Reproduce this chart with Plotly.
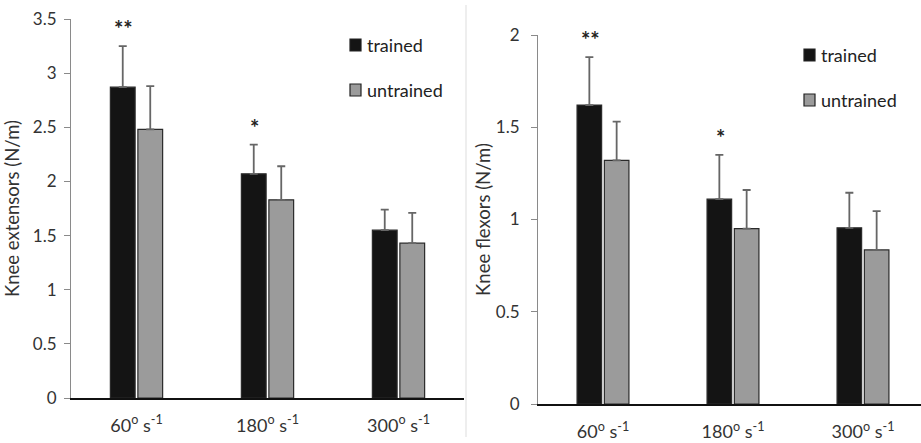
import plotly.graph_objects as go

categories = ["60<sup>o</sup> s<sup>-1</sup>", "180<sup>o</sup> s<sup>-1</sup>", "300<sup>o</sup> s<sup>-1</sup>"]

ext_trained = [2.87, 2.07, 1.55]
ext_trained_sd = [0.38, 0.27, 0.19]
ext_untrained = [2.48, 1.83, 1.43]
ext_untrained_sd = [0.40, 0.31, 0.28]
ext_sig = ["**", "*", ""]

flex_trained = [1.62, 1.11, 0.955]
flex_trained_sd = [0.26, 0.24, 0.19]
flex_untrained = [1.32, 0.95, 0.835]
flex_untrained_sd = [0.21, 0.21, 0.21]
flex_sig = ["**", "*", ""]

series_names = ["trained", "untrained"]
FONT = "Lato"
W, H = 921, 443

DARK = "#141414"
GREY = "#9b9b9b"
EDGE = "#2a2a2a"
ERR = "#666666"
COLORS = [DARK, GREY]

fig = go.Figure()


def add_bars(vals, sds, name, color, xa, ya):
    fig.add_trace(go.Bar(
        x=categories, y=vals, name=name, xaxis=xa, yaxis=ya, showlegend=False,
        marker=dict(color=color, line=dict(color=EDGE, width=1.2)),
        error_y=dict(type="data", symmetric=False, array=sds, arrayminus=[0] * len(sds),
                     color=ERR, thickness=1.8, width=4),
    ))


add_bars(ext_trained, ext_trained_sd, series_names[0], DARK, "x", "y")
add_bars(ext_untrained, ext_untrained_sd, series_names[1], GREY, "x", "y")
add_bars(flex_trained, flex_trained_sd, series_names[0], DARK, "x2", "y2")
add_bars(flex_untrained, flex_untrained_sd, series_names[1], GREY, "x2", "y2")

annotations = []
for xr, yr, means, sds, sig in [("x", "y", ext_trained, ext_trained_sd, ext_sig),
                                ("x2", "y2", flex_trained, flex_trained_sd, flex_sig)]:
    for cat, m, s, t in zip(categories, means, sds, sig):
        if t:
            annotations.append(dict(x=cat, y=m + s, xref=xr, yref=yr, text="<b>" + t + "</b>",
                                    showarrow=False, yanchor="bottom", yshift=2, xshift=-13,
                                    font=dict(family=FONT, size=22, color="#222")))

# legends (drawn as decoration: square swatch + label)
shapes = []
legend_spots = [(350, [45, 90]), (804, [55, 100])]
for lx, ys in legend_spots:
    for name, col, yc in zip(series_names, COLORS, ys):
        shapes.append(dict(type="rect", xref="paper", yref="paper",
                           x0=lx / W, x1=(lx + 11) / W, y0=1 - (yc - 6) / H, y1=1 - (yc + 6) / H,
                           fillcolor=col, line=dict(color="#222", width=1.2)))
        annotations.append(dict(x=(lx + 15) / W, y=1 - yc / H, xref="paper", yref="paper",
                                text=name, showarrow=False, xanchor="left", yanchor="middle",
                                font=dict(family=FONT, size=18, color="#222")))

shapes.append(dict(type="line", xref="paper", yref="paper", x0=466 / W, x1=466 / W,
                   y0=1 - 5 / H, y1=1 - 437 / H, line=dict(color="#dddddd", width=1)))

tick_font = dict(family=FONT, size=17, color="#333")
xtick_font = dict(family=FONT, size=18, color="#333")
title_font = dict(family=FONT, size=18.5, color="#333")

fig.update_layout(
    width=W, height=H,
    margin=dict(l=0, r=0, t=0, b=0),
    paper_bgcolor="white", plot_bgcolor="white",
    barmode="group", bargap=0.58, bargroupgap=0.1,
    font=dict(family=FONT, size=15, color="#333"),
    xaxis=dict(domain=[71 / W, 464 / W], range=[-0.5, 2.5], showline=True, linecolor="#111",
               linewidth=2, ticks="", tickfont=xtick_font, anchor="y", showgrid=False,
               automargin=False, ticklabelstandoff=10),
    yaxis=dict(domain=[45 / H, 424 / H], range=[0, 3.5], dtick=0.5, showline=True,
               linecolor="#8a8a8a", linewidth=1, ticks="outside", ticklen=6, tickcolor="#8a8a8a",
               tickfont=tick_font, showgrid=False, zeroline=False, anchor="x", automargin=False,
               ticklabelstandoff=4,
               title=dict(text="Knee extensors (N/m)", font=title_font, standoff=8)),
    xaxis2=dict(domain=[538 / W, 1.0], range=[-0.5, -0.5 + 383 / 130], showline=True, linecolor="#111",
                linewidth=1.5, ticks="", tickfont=xtick_font, anchor="y2", showgrid=False,
                automargin=False, ticklabelstandoff=11),
    yaxis2=dict(domain=[39 / H, 408 / H], range=[0, 2], dtick=0.5, showline=True,
                linecolor="#8a8a8a", linewidth=1, ticks="outside", ticklen=6, tickcolor="#8a8a8a",
                tickfont=tick_font, showgrid=False, zeroline=False, anchor="x2", automargin=False,
                ticklabelstandoff=8,
                title=dict(text="Knee flexors (N/m)", font=title_font, standoff=0)),
    annotations=annotations,
    shapes=shapes,
)

fig.write_html("out.html", config={"displayModeBar": False},
               post_script="document.body.style.margin='0';document.body.style.overflow='hidden';")
